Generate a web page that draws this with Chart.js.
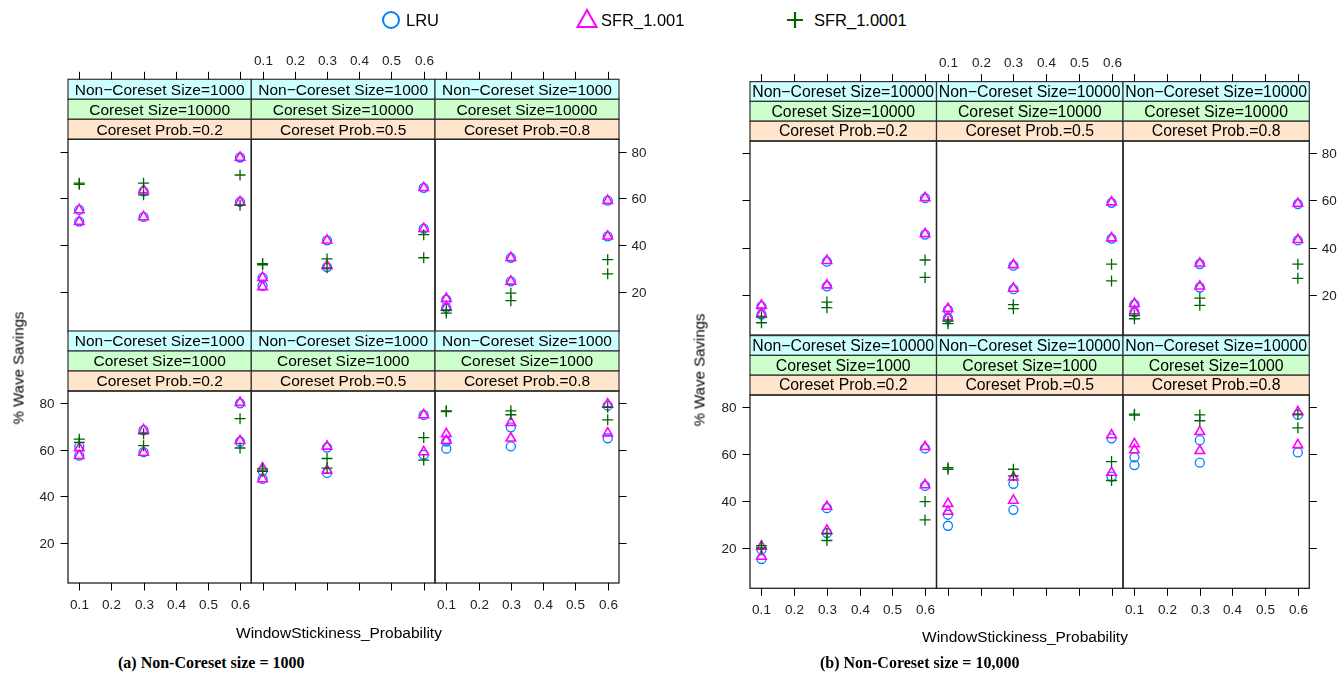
<!DOCTYPE html>
<html>
<head>
<meta charset="utf-8">
<script src="https://cdn.jsdelivr.net/npm/chart.js@4.4.0/dist/chart.umd.min.js"></script>
<style>
body { margin: 0; width: 1342px; height: 679px; background: #fff; position: relative; overflow: hidden;
       font-family: "Liberation Sans", Arial, sans-serif; }
canvas { position: absolute; }
.lbl { position: absolute; white-space: nowrap; color: #000; line-height: 1; }
.cap { font-family: "Liberation Serif", "Times New Roman", serif; font-weight: bold; font-size: 16px; }
</style>
</head>
<body>
<script>
// x positions of the points in every panel (two runs per stickiness value)
const xVals = [0.1, 0.1, 0.3, 0.3, 0.6, 0.6];
const xTicks = [0.1, 0.2, 0.3, 0.4, 0.5, 0.6];
const yTicks = [20, 40, 60, 80];
const seriesNames = ['LRU', 'SFR_1.001', 'SFR_1.0001'];
const coresetSizes = ['10000', '1000'];   // panel rows, top to bottom
const coresetProbs = ['0.2', '0.5', '0.8']; // panel columns

// (a) Non-Coreset size = 1000 ; panels: top row p=.2,.5,.8 then bottom row
const lruA = [
  [55, 50, 63, 52, 77.5, 58.5],
  [26, 22.5, 42, 30.5, 64.5, 47],
  [16.5, 13, 34.5, 24.4, 59, 43.7],
  [61.5, 57.5, 68.5, 59, 80, 63.5],
  [51, 47.5, 61, 50.1, 75, 57.9],
  [63.6, 60.5, 69.7, 61.5, 79, 65]
];
const sfr1001A = [
  [55, 50, 63.5, 52, 77.5, 58.5],
  [26, 22, 42, 31, 64.5, 47],
  [17, 13.3, 34.5, 24.4, 59, 43.7],
  [60.8, 57.5, 68.6, 58.9, 80.3, 63.9],
  [52.2, 47.5, 61.5, 51.2, 75, 59.1],
  [66.9, 64, 71.7, 65, 79.7, 67.2]
];
const sfr10001A = [
  [66.5, 66, 66.5, 61.5, 70, 57],
  [32, 31.5, 34, 30.2, 44.4, 34.5],
  [12, 10.8, 19.3, 16.1, 33.7, 27.6],
  [64.6, 63.2, 66.9, 61.8, 73.4, 60.8],
  [51.8, 50.8, 56.3, 52.2, 65.3, 55.6],
  [76.8, 76.5, 76.8, 75.1, 78.3, 72.9]
];

// (b) Non-Coreset size = 10,000
const lruB = [
  [15, 11.5, 34, 23.5, 61, 45.5],
  [13.5, 10, 32.3, 22.3, 59, 43.8],
  [15.8, 12.5, 33, 23, 58.5, 43],
  [19.3, 15.3, 37, 26.4, 62.5, 46.5],
  [34.2, 29.5, 47.4, 36.3, 66.8, 50.5],
  [58.7, 55.4, 66, 56.4, 76.8, 60.8]
];
const sfr1001B = [
  [15.4, 11.9, 34.4, 24, 61.1, 45.8],
  [14, 10.4, 32.6, 22.6, 59.3, 44],
  [16.1, 13, 33.3, 23.5, 58.7, 43.3],
  [20.7, 16.4, 37.7, 27.5, 63.2, 46.9],
  [38.9, 35.6, 50.2, 40.3, 68.2, 52.2],
  [64.4, 61.8, 69.6, 61.5, 78.1, 64]
];
const sfr10001B = [
  [10.4, 8, 16.8, 14.4, 34.7, 27.3],
  [8.7, 7.6, 15.7, 14, 32.9, 25.8],
  [11.1, 9.7, 18.5, 15.4, 32.9, 26.9],
  [21, 20, 26, 23.2, 39.8, 32],
  [54.3, 53.6, 53.6, 50.8, 56.9, 48.8],
  [77.1, 76.7, 76.8, 74.3, 77.1, 71.3]
];

const colors = ['#0080ff', '#ff00ff', '#006400'];

// panel geometry of the two lattice figures (plot area edges)
const figA = { nonCoreset: '1000', cols: [68, 251.3, 435, 619], rows: [[139.3, 331.7], [391, 583]], stripH: 20, stripFont: '15.5px "Liberation Sans"' };
const figB = { nonCoreset: '10000', cols: [750, 936.5, 1123, 1309.3], rows: [[141, 335], [395, 588.3]], stripH: 19.8, stripFont: '15.8px "Liberation Sans"' };

// draws strips, border, ticks and tick labels around each panel
const latticePlugin = {
  id: 'lattice',
  afterDraw(chart, args, o) {
    const ctx = chart.ctx, a = chart.chartArea;
    const xs = chart.scales.x, ys = chart.scales.y;
    const sh = o.stripH, w = a.right - a.left;
    ctx.save();
    const strips = [
      ['Non\u2212Coreset Size=' + o.nonCoreset, '#ccffff'],
      ['Coreset Size=' + o.coreset, '#ccffcc'],
      ['Coreset Prob.=' + o.prob, '#ffe5cc']
    ];
    strips.forEach((s, i) => {
      const top = a.top - (3 - i) * sh;
      ctx.fillStyle = s[1];
      ctx.fillRect(a.left, top, w, sh);
      ctx.save();
      ctx.beginPath(); ctx.rect(a.left, top, w, sh); ctx.clip();
      ctx.fillStyle = '#000'; ctx.font = o.stripFont;
      ctx.textAlign = 'center'; ctx.textBaseline = 'middle';
      ctx.fillText(s[0], a.left + w / 2, top + sh / 2 + 1);
      ctx.restore();
      ctx.strokeStyle = '#333'; ctx.lineWidth = 1.2;
      ctx.strokeRect(a.left, top, w, sh);
    });
    ctx.strokeStyle = '#222'; ctx.lineWidth = 1.3;
    ctx.strokeRect(a.left, a.top, w, a.bottom - a.top);

    ctx.strokeStyle = '#000'; ctx.lineWidth = 1;
    ctx.fillStyle = '#222'; ctx.font = '13.5px "Liberation Sans"';
    const tl = 7.5;
    if (o.xSide) {
      ctx.textAlign = 'center';
      xTicks.forEach(v => {
        const px = Math.round(xs.getPixelForValue(v)) + 0.5;
        let y0, y1;
        if (o.xSide === 'top') { y0 = a.top - 3 * sh; y1 = y0 - tl; }
        else { y0 = a.bottom; y1 = y0 + tl; }
        ctx.beginPath(); ctx.moveTo(px, y0); ctx.lineTo(px, y1); ctx.stroke();
        if (o.xLabels) {
          if (o.xSide === 'top') { ctx.textBaseline = 'bottom'; ctx.fillText(String(v), px, y1 - 4); }
          else { ctx.textBaseline = 'top'; ctx.fillText(String(v), px, y1 + 8); }
        }
      });
    }
    if (o.ySide) {
      ctx.textBaseline = 'middle';
      yTicks.forEach(v => {
        const py = Math.round(ys.getPixelForValue(v)) + 0.5;
        let x0, x1;
        if (o.ySide === 'left') { x0 = a.left; x1 = x0 - tl; }
        else { x0 = a.right; x1 = x0 + tl; }
        ctx.beginPath(); ctx.moveTo(x0, py); ctx.lineTo(x1, py); ctx.stroke();
        if (o.yLabels) {
          if (o.ySide === 'left') { ctx.textAlign = 'right'; ctx.fillText(String(v), x1 - 6, py + 1); }
          else { ctx.textAlign = 'left'; ctx.fillText(String(v), x1 + 5, py + 1); }
        }
      });
    }
    ctx.restore();
  }
};

function points(ys) {
  return ys.map((y, i) => ({ x: xVals[i], y: y }));
}

function makePanel(fig, row, col, lru, s1, s2) {
  const L = fig.cols[col], R = fig.cols[col + 1];
  const T = fig.rows[row][0], B = fig.rows[row][1];
  const cx = Math.floor(L - 50), cy = Math.floor(T - 3 * fig.stripH - 36);
  const w = Math.ceil(R + 50) - cx, h = Math.ceil(B + 40) - cy;
  const cv = document.createElement('canvas');
  cv.width = w; cv.height = h;
  cv.style.left = cx + 'px'; cv.style.top = cy + 'px';
  cv.style.width = w + 'px'; cv.style.height = h + 'px';
  document.body.appendChild(cv);

  const opts = {
    nonCoreset: fig.nonCoreset, coreset: coresetSizes[row], prob: coresetProbs[col],
    stripH: fig.stripH, stripFont: fig.stripFont,
    xSide: row === 0 ? 'top' : 'bottom',
    xLabels: row === 0 ? col === 1 : col !== 1,
    ySide: col === 0 ? 'left' : (col === 2 ? 'right' : null),
    yLabels: (col === 0 && row === 1) || (col === 2 && row === 0)
  };

  new Chart(cv, {
    type: 'scatter',
    data: {
      datasets: [
        { label: seriesNames[0], data: points(lru), order: 3, pointStyle: 'circle', pointRadius: 4.5,
          borderColor: colors[0], backgroundColor: 'rgba(0,0,0,0)', borderWidth: 1.3 },
        { label: seriesNames[1], data: points(s1), order: 2, pointStyle: 'triangle', pointRadius: 5.5,
          borderColor: colors[1], backgroundColor: 'rgba(0,0,0,0)', borderWidth: 1.6 },
        { label: seriesNames[2], data: points(s2), order: 1, pointStyle: 'cross', pointRadius: 5.5,
          borderColor: colors[2], backgroundColor: 'rgba(0,0,0,0)', borderWidth: 1.3 }
      ]
    },
    options: {
      responsive: false, animation: false, devicePixelRatio: 1, events: [],
      layout: { padding: { left: L - cx, right: cx + w - R, top: T - cy, bottom: cy + h - B } },
      scales: {
        x: { type: 'linear', min: 0.065, max: 0.635, display: false },
        y: { type: 'linear', min: 2.8, max: 85.3, display: false }
      },
      plugins: { legend: { display: false }, tooltip: { enabled: false }, lattice: opts }
    },
    plugins: [latticePlugin]
  });
}

for (let p = 0; p < 6; p++) {
  const row = Math.floor(p / 3), col = p % 3;
  makePanel(figA, row, col, lruA[p], sfr1001A[p], sfr10001A[p]);
  makePanel(figB, row, col, lruB[p], sfr1001B[p], sfr10001B[p]);
}

function label(text, x, y, css, cls) {
  const d = document.createElement('div');
  d.className = 'lbl' + (cls ? ' ' + cls : '');
  d.textContent = text;
  d.style.cssText += css;
  d.style.left = x + 'px'; d.style.top = y + 'px';
  document.body.appendChild(d);
  return d;
}

// axis titles
label('WindowStickiness_Probability', 236, 625, 'font-size:15.5px;');
label('WindowStickiness_Probability', 922, 629, 'font-size:15.5px;');
label('% Wave Savings', 18, 368, 'font-size:15px;transform:translate(-50%,-50%) rotate(-90deg);');
label('% Wave Savings', 699, 370, 'font-size:15px;transform:translate(-50%,-50%) rotate(-90deg);');

// captions
label('(a) Non-Coreset size = 1000', 118, 655, '', 'cap');
label('(b) Non-Coreset size = 10,000', 820, 655, '', 'cap');

// legend
const legendPos = [[391, 406], [587, 601], [795, 814]];
const ns = 'http://www.w3.org/2000/svg';
seriesNames.forEach((name, i) => {
  const svg = document.createElementNS(ns, 'svg');
  svg.setAttribute('width', 24); svg.setAttribute('height', 24);
  svg.style.position = 'absolute';
  svg.style.left = (legendPos[i][0] - 12) + 'px'; svg.style.top = (20 - 12) + 'px';
  let shape;
  if (i === 0) {
    shape = document.createElementNS(ns, 'circle');
    shape.setAttribute('cx', 12); shape.setAttribute('cy', 12); shape.setAttribute('r', 8);
  } else if (i === 1) {
    shape = document.createElementNS(ns, 'polygon');
    shape.setAttribute('points', '12,2 21.5,19 2.5,19');
  } else {
    shape = document.createElementNS(ns, 'path');
    shape.setAttribute('d', 'M12 4 V20 M4 12 H20');
  }
  shape.setAttribute('fill', 'none');
  shape.setAttribute('stroke', colors[i]);
  shape.setAttribute('stroke-width', i === 2 ? 2.2 : 2);
  svg.appendChild(shape);
  document.body.appendChild(svg);
  label(name, legendPos[i][1], 12, 'font-size:16.5px;');
});
</script>
</body>
</html>
